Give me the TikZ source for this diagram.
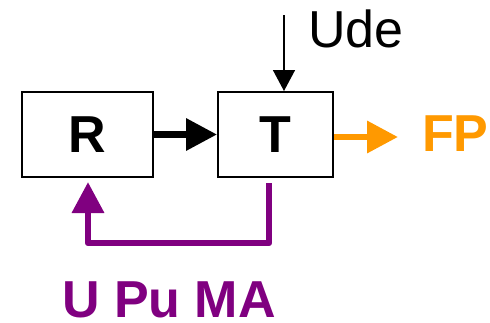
\documentclass[tikz,border=0pt]{standalone}
\usepackage{fontspec}
\setmainfont{Liberation Sans}
\usetikzlibrary{arrows.meta,calc}

\definecolor{fporange}{RGB}{255,153,0}
\definecolor{loopviolet}{RGB}{128,0,128}

\tikzset{every picture/.style={line width=2pt}}
\tikzset{
  blockbox/.style={draw, line width=2pt, minimum height=85pt, font=\fontsize{52}{60}\selectfont\bfseries},
  bigarrow/.style={line width=6.5pt, line join=round, -{Triangle[length=31pt,width=31pt]}},
  biglabel/.style={font=\fontsize{52}{60}\selectfont\bfseries, inner sep=0pt}
}

\begin{document}
\begin{tikzpicture}[x=1pt, y=-1pt]
        \useasboundingbox (0,0) rectangle (490,322);
        \node[blockbox, minimum width=131pt] (R) at (87.5,134.5) {R};
        \node[blockbox, minimum width=115pt] (T) at (275.5,134.5) {T};
        \draw[bigarrow] (R.east) -- (T.west);
        % disturbance input
        \coordinate (udein) at (284,15);
        \draw[line width=1.5pt, -{Triangle[length=21pt,width=22pt]}] (udein) -- (udein |- T.north);
        \node[anchor=base west, inner sep=0pt, font=\fontsize{52}{60}\selectfont] (ude) at (307,47) {Ude};
        % output
        \node[biglabel, color=fporange, anchor=west] (FP) at (421,134) {FP};
        \coordinate (fpend) at (398,137);
        \draw[bigarrow, color=fporange] (T.east |- fpend) -- (fpend);
        % feedback loop
        \coordinate (loopout) at (269,183);
        \coordinate (loopin) at (88,182);
        \draw[bigarrow, color=loopviolet] (loopout) -- (269,243) -- (88,243) -- (loopin);
        \node[biglabel, color=loopviolet, anchor=base] (upuma) at (169,317) {U Pu MA};
    \end{tikzpicture}
\end{document}
